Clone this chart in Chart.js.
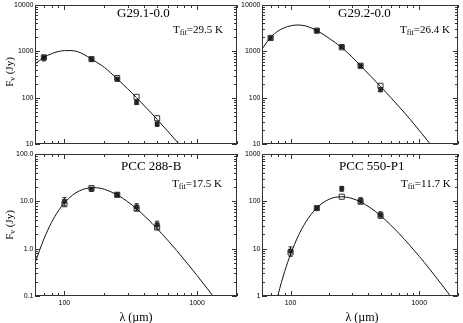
<!DOCTYPE html>
<html>
<head>
<meta charset="utf-8">
<script src="https://cdn.jsdelivr.net/npm/chart.js@4.4.1/dist/chart.umd.min.js"></script>
<style>
   html, body { margin: 0; padding: 0; background: #fff; }
   #wrap { position: relative; width: 463px; height: 323px; overflow: hidden; font-family: 'Liberation Serif', 'Times New Roman', serif; color: #000; }
   #wrap canvas { position: absolute; left: 0; top: 0; }
   .lbl { position: absolute; white-space: nowrap; line-height: 1; }
   .name { font-size: 13px; }
   .tfit { font-size: 11px; }
   .tfit sub { font-size: 8px; vertical-align: -2px; line-height: 0; }
   .xtitle { font-size: 12px; transform: translate(-50%, -50%); }
   .ytitle { font-size: 11px; transform: translate(-50%, -50%) rotate(-90deg); }
   .ytitle sub { font-size: 8px; vertical-align: -2px; line-height: 0; }
</style>
</head>
<body>
<div id="wrap">
   <canvas id="c1" width="463" height="323"></canvas>
   <canvas id="c2" width="463" height="323"></canvas>
   <canvas id="c3" width="463" height="323"></canvas>
   <canvas id="c4" width="463" height="323"></canvas>

   <div class="lbl name" style="left:117px; top:5.6px;">G29.1-0.0</div>
   <div class="lbl name" style="left:338px; top:5.6px;">G29.2-0.0</div>
   <div class="lbl name" style="left:121px; top:158.6px;">PCC 288-B</div>
   <div class="lbl name" style="left:339px; top:158.6px;">PCC 550-P1</div>

   <div class="lbl tfit" style="left:173px; top:24.3px;">T<sub>fit</sub>=29.5 K</div>
   <div class="lbl tfit" style="left:400px; top:24.3px;">T<sub>fit</sub>=26.4 K</div>
   <div class="lbl tfit" style="left:172px; top:177.8px;">T<sub>fit</sub>=17.5 K</div>
   <div class="lbl tfit" style="left:401px; top:177.8px;">T<sub>fit</sub>=11.7 K</div>

   <div class="lbl ytitle" style="left:9px; top:72px;">F<sub>ν</sub> (Jy)</div>
   <div class="lbl ytitle" style="left:9px; top:225px;">F<sub>ν</sub> (Jy)</div>
   <div class="lbl xtitle" style="left:136px; top:316.5px;">λ (µm)</div>
   <div class="lbl xtitle" style="left:362px; top:316.5px;">λ (µm)</div>
</div>

<script>
// wavelength axis (µm), shared by all four panels
const lambdaMin = 60;
const lambdaMax = 2000;
const lambdaTicks = [100, 1000];
const lambdaLabels = ['100', '1000'];

// G29.1-0.0
const g291Bands = [70, 160, 250, 350, 500];
const g291Flux = [720, 665, 250, 79, 27];
const g291Err = [100, 60, 25, 8, 3];
const g291Model = [740, 680, 265, 104, 36];
const g291CurveLambda = [60, 70, 80, 90, 100, 110, 125, 140, 160, 200, 250, 300, 350, 420, 500, 600, 730, 850];
const g291CurveFlux = [530, 740, 890, 990, 1035, 1040, 990, 860, 680, 450, 255, 155, 100, 58, 34, 19, 10, 6];
const g291YTicks = [10, 100, 1000, 10000];
const g291YLabels = ['10', '100', '1000', '10000'];

// G29.2-0.0
const g292Bands = [70, 160, 250, 350, 500];
const g292Flux = [1900, 2770, 1265, 483, 149];
const g292Err = [180, 250, 120, 45, 15];
const g292Model = [1950, 2800, 1220, 490, 180];
const g292CurveLambda = [60, 70, 80, 90, 100, 112, 130, 160, 200, 250, 300, 350, 420, 500, 600, 700, 850, 1000, 1200, 1350];
const g292CurveFlux = [1120, 2000, 2750, 3250, 3550, 3700, 3550, 2800, 1900, 1200, 760, 490, 290, 175, 101, 63, 34, 19.6, 10.5, 7.0];
const g292YTicks = [10, 100, 1000, 10000];
const g292YLabels = ['10', '100', '1000', '10000'];

// PCC 288-B
const pcc288Bands = [100, 160, 250, 350, 500];
const pcc288Flux = [10.0, 18, 14, 7.6, 3.2];
const pcc288Err = [2.0, 1.8, 1.4, 1.3, 0.6];
const pcc288Model = [8.7, 19.0, 13.7, 7.0, 2.8];
const pcc288CurveLambda = [60, 70, 80, 90, 100, 115, 130, 145, 165, 185, 200, 250, 300, 350, 420, 500, 600, 700, 850, 1000, 1200, 1400, 1600];
const pcc288CurveFlux = [0.5, 1.6, 3.6, 6.3, 9.3, 13.5, 16.7, 18.6, 19.5, 19.0, 18.0, 13.7, 9.8, 6.95, 4.35, 2.65, 1.51, 0.92, 0.477, 0.27, 0.141, 0.080, 0.049];
const pcc288YTicks = [0.1, 1, 10, 100];
const pcc288YLabels = ['0.1', '1.0', '10.0', '100.0'];

// PCC 550-P1
const pcc550Bands = [100, 160, 250, 350, 500];
const pcc550Flux = [8.9, 71, 185, 105, 52];
const pcc550Err = [2.0, 6, 22, 14, 8];
const pcc550Model = [8.3, 72, 125, 98, 50];
const pcc550CurveLambda = [75, 80, 90, 100, 115, 130, 160, 200, 250, 300, 350, 420, 500, 600, 700, 850, 1000, 1200, 1500, 1750, 2000];
const pcc550CurveFlux = [0.53, 1.07, 3.3, 7.6, 18.8, 35, 73, 111, 125, 115, 97, 72, 50, 31.6, 20.6, 11.5, 6.9, 3.75, 1.72, 0.99, 0.61];
const pcc550YTicks = [1, 10, 100, 1000];
const pcc550YLabels = ['1', '10', '100', '1000'];

const PAGE_W = 463, PAGE_H = 323;
const Y_AXIS_W = 30, X_AXIS_H = 20;
const tickFont = { family: "'Liberation Sans', Arial, sans-serif", size: 7 };

// minor + major tick positions for a log axis (1..9 x 10^n)
function logTicks(min, max) {
   const out = [];
   for (let e = Math.floor(Math.log10(min)); e <= Math.ceil(Math.log10(max)); e++) {
      for (let k = 1; k <= 9; k++) {
         const v = k * Math.pow(10, e);
         if (v >= min * 0.999 && v <= max * 1.001) out.push({ v, major: k === 1 });
      }
   }
   return out;
}

// IDL style box: frame, inward ticks on all four sides, error bars
const boxTicks = {
   id: 'boxTicks',
   beforeDatasetsDraw(chart) {
      const { ctx, scales: { x, y } } = chart;
      chart.data.datasets.forEach(ds => {
         if (!ds.errors) return;
         ctx.save();
         ctx.strokeStyle = '#222';
         ctx.lineWidth = 1;
         ctx.beginPath();
         ds.data.forEach((d, i) => {
            const px = x.getPixelForValue(d.x);
            const top = y.getPixelForValue(d.y + ds.errors[i]);
            const bot = y.getPixelForValue(d.y - ds.errors[i]);
            ctx.moveTo(px, top); ctx.lineTo(px, bot);
            ctx.moveTo(px - 2, top); ctx.lineTo(px + 2, top);
            ctx.moveTo(px - 2, bot); ctx.lineTo(px + 2, bot);
         });
         ctx.stroke();
         ctx.restore();
      });
   },
   afterDraw(chart) {
      const { ctx, chartArea: a, scales: { x, y } } = chart;
      ctx.save();
      ctx.strokeStyle = '#333';
      ctx.lineWidth = 1;
      ctx.strokeRect(a.left + 0.5, a.top + 0.5, a.right - a.left - 1, a.bottom - a.top - 1);
      ctx.beginPath();
      logTicks(x.min, x.max).forEach(tk => {
         const px = Math.round(x.getPixelForValue(tk.v)) + 0.5;
         const len = tk.major ? 5 : 3;
         ctx.moveTo(px, a.bottom); ctx.lineTo(px, a.bottom - len);
         ctx.moveTo(px, a.top); ctx.lineTo(px, a.top + len);
      });
      logTicks(y.min, y.max).forEach(tk => {
         const py = Math.round(y.getPixelForValue(tk.v)) + 0.5;
         const len = tk.major ? 5 : 3;
         ctx.moveTo(a.left, py); ctx.lineTo(a.left + len, py);
         ctx.moveTo(a.right, py); ctx.lineTo(a.right - len, py);
      });
      ctx.stroke();
      ctx.restore();
   }
};

function pairs(xs, ys) {
   return xs.map((x, i) => ({ x, y: ys[i] }));
}

function drawPanel(id, box, showX, p) {
   const [l, t, r, b] = box;
   new Chart(document.getElementById(id), {
      type: 'scatter',
      data: {
         datasets: [
            {
               data: pairs(p.curveLambda, p.curveFlux),
               showLine: true,
               pointRadius: 0,
               borderColor: '#111',
               borderWidth: 1,
               cubicInterpolationMode: 'monotone'
            },
            {
               data: pairs(p.bands, p.model),
               pointStyle: 'rect',
               pointRadius: 3.6,
               backgroundColor: 'rgba(255,255,255,0)',
               borderColor: '#333',
               borderWidth: 1
            },
            {
               data: pairs(p.bands, p.flux),
               errors: p.err,
               pointStyle: 'rect',
               pointRadius: 3,
               backgroundColor: '#222',
               borderColor: '#222',
               borderWidth: 0.5
            }
         ]
      },
      options: {
         responsive: false,
         animation: false,
         devicePixelRatio: 1,
         layout: { padding: { left: l - Y_AXIS_W, top: t, right: PAGE_W - r, bottom: PAGE_H - b - X_AXIS_H } },
         plugins: { legend: { display: false }, tooltip: { enabled: false } },
         scales: {
            x: {
               type: 'logarithmic',
               min: lambdaMin,
               max: lambdaMax,
               afterBuildTicks: s => { s.ticks = lambdaTicks.map(v => ({ value: v })); },
               afterFit: s => { s.height = X_AXIS_H; s.paddingLeft = 0; s.paddingRight = 0; },
               grid: { display: false, drawTicks: false },
               border: { display: false },
               ticks: {
                  display: showX,
                  autoSkip: false,
                  maxRotation: 0,
                  padding: 3,
                  color: '#000',
                  font: tickFont,
                  callback: (v, i) => lambdaLabels[i]
               }
            },
            y: {
               type: 'logarithmic',
               min: p.yTicks[0],
               max: p.yTicks[p.yTicks.length - 1],
               afterBuildTicks: s => { s.ticks = p.yTicks.map(v => ({ value: v })); },
               afterFit: s => { s.width = Y_AXIS_W; s.paddingTop = 0; s.paddingBottom = 0; },
               grid: { display: false, drawTicks: false },
               border: { display: false },
               ticks: {
                  autoSkip: false,
                  padding: 1.5,
                  color: '#000',
                  font: tickFont,
                  callback: (v, i) => p.yLabels[i]
               }
            }
         }
      },
      plugins: [boxTicks]
   });
}

drawPanel('c1', [35, 1, 237, 144], false, {
   bands: g291Bands, flux: g291Flux, err: g291Err, model: g291Model,
   curveLambda: g291CurveLambda, curveFlux: g291CurveFlux, yTicks: g291YTicks, yLabels: g291YLabels
});
drawPanel('c2', [262, 1, 463, 144], false, {
   bands: g292Bands, flux: g292Flux, err: g292Err, model: g292Model,
   curveLambda: g292CurveLambda, curveFlux: g292CurveFlux, yTicks: g292YTicks, yLabels: g292YLabels
});
drawPanel('c3', [35, 154, 237, 296], true, {
   bands: pcc288Bands, flux: pcc288Flux, err: pcc288Err, model: pcc288Model,
   curveLambda: pcc288CurveLambda, curveFlux: pcc288CurveFlux, yTicks: pcc288YTicks, yLabels: pcc288YLabels
});
drawPanel('c4', [262, 154, 463, 296], true, {
   bands: pcc550Bands, flux: pcc550Flux, err: pcc550Err, model: pcc550Model,
   curveLambda: pcc550CurveLambda, curveFlux: pcc550CurveFlux, yTicks: pcc550YTicks, yLabels: pcc550YLabels
});
</script>
</body>
</html>
